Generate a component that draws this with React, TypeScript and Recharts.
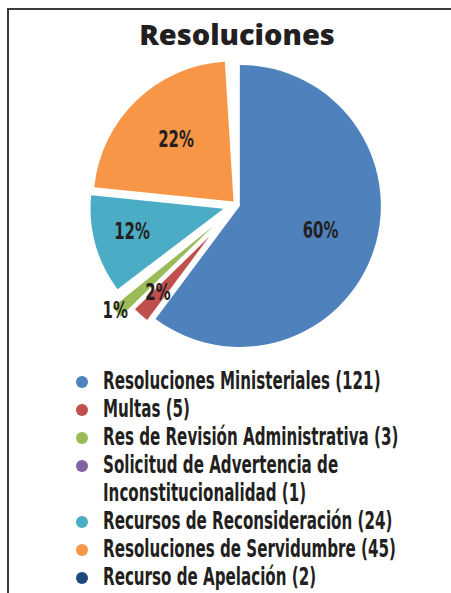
import { PieChart, Pie, Cell, Sector, Legend } from 'recharts';

const NAMES = [
  'Resoluciones Ministeriales',
  'Multas',
  'Res de Revisión Administrativa',
  'Solicitud de Advertencia de Inconstitucionalidad',
  'Recursos de Reconsideración',
  'Resoluciones de Servidumbre',
  'Recurso de Apelación',
];
const COUNTS = [121, 5, 3, 1, 24, 45, 2];
const COLORS = ['#4f81bd', '#c0504d', '#9bbb59', '#8064a2', '#4bacc6', '#f79646', '#1f497d'];

// the two smallest slices are left blank in the pie, but still count in the total
const HIDDEN = [false, false, false, true, false, false, true];
const EXPLODE = [3, 42, 32, 0, 14, 5, 0];
const RADIUS = [141, 104, 129, 0, 133, 140, 0];
const LABEL_R = [88, 120, 163, 0, 109, 88, 0];

const CX = 237;
const CY = 205;
const RAD = Math.PI / 180;
const FONT = '"DejaVu Sans Condensed", "Liberation Sans Narrow", sans-serif';
const SQUEEZE = 0.7; // fake a condensed face

const data = NAMES.map((name, idx) => ({ name, value: COUNTS[idx], idx }));

function ExplodedSector(props: any) {
  const i = props.idx ?? props.payload?.idx ?? 0;
  if (HIDDEN[i]) return null;
  const mid = props.midAngle;
  const d = EXPLODE[i];
  return (
    <Sector
      {...props}
      cx={props.cx + Math.cos(mid * RAD) * d}
      cy={props.cy - Math.sin(mid * RAD) * d}
      outerRadius={RADIUS[i]}
      fill={COLORS[i]}
      stroke="none"
    />
  );
}

function renderLabel(props: any) {
  const i = props.index;
  if (HIDDEN[i]) return null;
  const r = LABEL_R[i];
  const x = CX + Math.cos(props.midAngle * RAD) * r;
  const y = CY - Math.sin(props.midAngle * RAD) * r - 3;
  return (
    <text
      transform={`translate(${x},${y}) scale(0.72,1)`}
      textAnchor="middle"
      dominantBaseline="central"
      fill="#231f20"
      fontFamily={FONT}
      fontWeight="bold"
      fontSize={23}
    >
      {Math.round(props.percent * 100)}%
    </text>
  );
}

function LegendList() {
  return (
    <div style={{ fontFamily: FONT, fontWeight: 'bold', fontSize: 24, lineHeight: '28px', color: '#231f20' }}>
      {NAMES.map((name, i) => (
        <div key={name} style={{ position: 'relative', paddingLeft: 33 }}>
          <span
            style={{
              position: 'absolute',
              left: 6,
              top: 9,
              width: 12,
              height: 12,
              borderRadius: 6,
              background: COLORS[i],
            }}
          />
          <div style={{ width: 300 / SQUEEZE, transform: `scaleX(${SQUEEZE})`, transformOrigin: 'left top' }}>
            {name} ({COUNTS[i]})
          </div>
        </div>
      ))}
    </div>
  );
}

export default function App() {
  return (
    <div style={{ position: 'fixed', left: 0, top: 0, width: 451, height: 593, overflow: 'hidden', background: '#fff' }}>
      <div
        style={{
          position: 'absolute',
          left: 7,
          top: 8,
          width: 600,
          height: 700,
          borderTop: '2px solid #3a3a3a',
          borderLeft: '2px solid #3a3a3a',
        }}
      />
      <div
        style={{
          position: 'absolute',
          left: 0,
          top: 20,
          width: 474,
          textAlign: 'center',
          fontFamily: '"Open Sans", sans-serif',
          fontWeight: 800,
          fontSize: 29,
          lineHeight: '28px',
          color: '#231f20',
        }}
      >
        Resoluciones
      </div>
      <div style={{ position: 'absolute', left: 0, top: 0 }}>
        <PieChart width={451} height={593} margin={{ top: 0, right: 0, bottom: 0, left: 0 }}>
          <Pie
            data={data}
            dataKey="value"
            nameKey="name"
            cx={CX}
            cy={CY}
            outerRadius={143}
            startAngle={90}
            endAngle={-270}
            stroke="none"
            label={renderLabel}
            labelLine={false}
            shape={ExplodedSector}
            isAnimationActive={false}
          >
            {data.map((d) => (
              <Cell key={d.name} fill={HIDDEN[d.idx] ? 'none' : COLORS[d.idx]} />
            ))}
          </Pie>
          <Legend
            content={() => <LegendList />}
            wrapperStyle={{ position: 'absolute', left: 70, top: 367, width: 380 }}
          />
        </PieChart>
      </div>
    </div>
  );
}
